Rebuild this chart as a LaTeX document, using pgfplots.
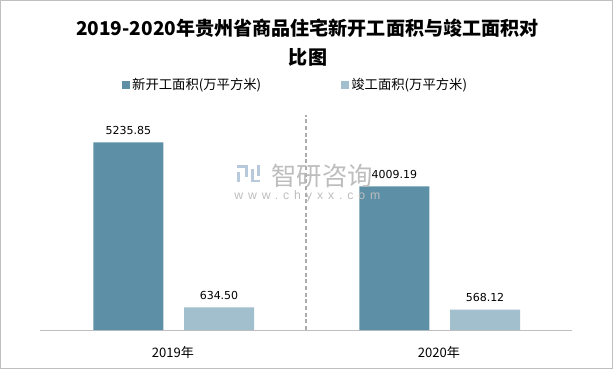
\documentclass[border=0pt]{standalone}
\usepackage{fontspec}
\setmainfont{Noto Sans CJK SC}
\newfontfamily\numfont{DejaVu Sans}
\newfontfamily\wmfont{Liberation Sans}
\usepackage{pgfplots}
\pgfplotsset{compat=1.18}
\definecolor{cdark}{HTML}{5D90A6}
\definecolor{clight}{HTML}{A1BFCC}
\definecolor{caxis}{HTML}{BFBFBF}
\definecolor{cwm}{HTML}{BDBDBD}
\definecolor{clogo}{HTML}{B9C9DC}
\begin{document}
\begin{tikzpicture}
\path (0,0) rectangle (459.75pt,276.75pt);
\draw[color=caxis,line width=0.75pt] (0.375pt,0.375pt) rectangle (459.375pt,276.375pt);
\node[font=\fontsize{14.3}{16}\selectfont\bfseries] at (230.5pt,255.5pt) {2019-2020年贵州省商品住宅新开工面积与竣工面积对};
\node[font=\fontsize{14.3}{16}\selectfont\bfseries] at (231pt,234pt) {比图};
\begin{axis}[
  at={(30pt,29.25pt)}, anchor=south west,
  scale only axis, width=399pt, height=161.25pt,
  xmin=-0.5, xmax=1.5, ymin=0, ymax=6000,
  axis x line*=bottom, axis y line=none,
  x axis line style={color=caxis,line width=0.75pt,-},
  xtick={0,1}, xticklabels={2019年,2020年},
  xtick style={draw=none},
  xticklabel style={font=\fontsize{9.8}{11}\selectfont, yshift=-4.5pt},
  extra x ticks={0.5}, extra x tick labels={},
  extra x tick style={grid=major, major grid style={color=caxis!90!black, dashed, line width=0.9pt, dash pattern=on 3pt off 2pt}, tick style={draw=none}},
  ybar, bar width=52.5pt,
  /pgf/number format/assume math mode=true,
  nodes near coords={\pgfmathprintnumber[fixed,fixed zerofill,precision=2,1000 sep={}]{\pgfplotspointmeta}},
  every node near coord/.append style={font=\numfont\fontsize{8.25}{10}\selectfont, text=black, yshift=2.5pt},
  legend style={at={(0.481,1.14)}, anchor=center, draw=none, fill=none,
     legend columns=2, font=\fontsize{10}{12}\selectfont,
     /tikz/every even column/.append style={column sep=58pt}},
  legend image code/.code={\fill[#1] (0pt,-2.8pt) rectangle (5.6pt,2.8pt);},
  clip=false,
]
\addplot[fill=cdark, draw=none, bar shift=-33.4pt] coordinates {(0,5235.85) (1,4009.19)};
\addplot[fill=clight, draw=none, bar shift=34.5pt] coordinates {(0,634.50) (1,568.12)};
\legend{新开工面积(万平方米), 竣工面积(万平方米)}
\end{axis}
% watermark (on top)
\fill[clogo] (177.5pt,151pt) rectangle (186pt,153pt);
\fill[clogo] (184pt,144pt) rectangle (186pt,153pt);
\fill[clogo] (177.5pt,140pt) rectangle (180pt,148pt);
\fill[clogo] (188.5pt,140pt) rectangle (195pt,142pt);
\fill[clogo] (188.5pt,140pt) rectangle (190.5pt,150pt);
\fill[clogo] (192.5pt,145pt) rectangle (195pt,153pt);
\node[text=cwm,font=\fontsize{19}{22}\selectfont] at (241.5pt,144.75pt) {智研咨询};
\node[text=cwm,font=\wmfont\addfontfeature{LetterSpace=40}\fontsize{9.2}{10}\selectfont] at (230.5pt,129.5pt) {www.chyxx.com};
\end{tikzpicture}
\end{document}
